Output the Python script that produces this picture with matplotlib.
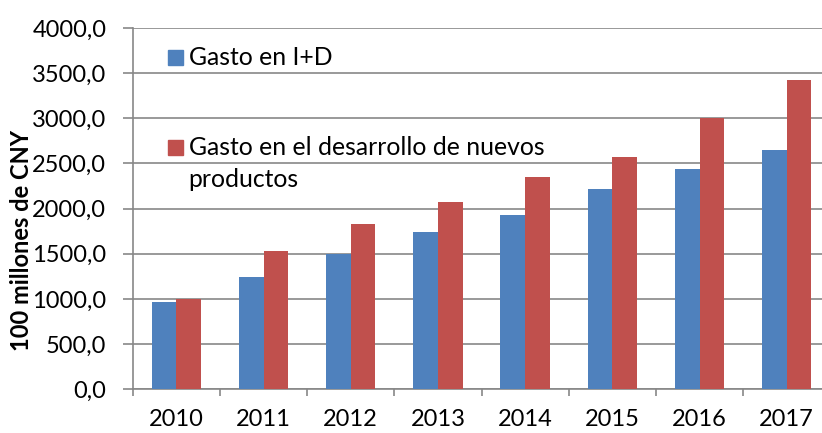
import matplotlib
matplotlib.use("Agg")
import matplotlib.pyplot as plt
import matplotlib.patches as patches
import numpy as np

years = ["2010", "2011", "2012", "2013", "2014", "2015", "2016", "2017"]
gasto_id = [970, 1240, 1497, 1740, 1925, 2223, 2437, 2647]
gasto_nuevos = [1002, 1530, 1829, 2071, 2352, 2573, 3004, 3421]
yticks = [0, 500, 1000, 1500, 2000, 2500, 3000, 3500, 4000]

blue = "#4F81BD"
red = "#C0504D"
grey = "#878787"

plt.rcParams["font.family"] = ["Lato", "DejaVu Sans"]

fig = plt.figure(figsize=(8.22, 4.33), dpi=100)
ax = fig.add_axes([132.7 / 822, 1 - 389.3 / 433, 697.6 / 822, (389.3 - 28) / 433])

x = np.arange(len(years))
w = 0.283
ax.bar(x - w / 2, gasto_id, width=w, color=blue, zorder=3)
ax.bar(x + w / 2, gasto_nuevos, width=w, color=red, zorder=3)

ax.set_xlim(-0.5, len(years) - 0.5)
ax.set_ylim(0, 4000)
ax.set_yticks(yticks)
ax.set_yticklabels([f"{v:.1f}".replace(".", ",") for v in yticks], fontsize=17)
ax.set_xticks(x)
ax.set_xticklabels(years, fontsize=17)
ax.set_xticks(np.arange(len(years) + 1) - 0.5, minor=True)
ax.tick_params(axis="x", which="major", length=0, pad=14)
ax.tick_params(axis="x", which="minor", length=5, color=grey, width=1.2)
ax.tick_params(axis="y", length=7, color=grey, width=1.2, pad=12)

ax.grid(axis="y", color=grey, linewidth=1.2, zorder=0)
for s in ["top", "right"]:
    ax.spines[s].set_visible(False)
for s in ["left", "bottom"]:
    ax.spines[s].set_color(grey)
    ax.spines[s].set_linewidth(1.2)

fig.text(22 / 822, 1 - 240 / 433, "100 millones de CNY", rotation=90,
         ha="center", va="center", fontsize=17, fontweight="bold")

# legend drawn by hand to match the layout
def legend_entry(base, color, lines):
    fig.patches.append(patches.Rectangle((167.5 / 822, 1 - base / 433), 15 / 822, 15 / 433,
                                         transform=fig.transFigure, color=color))
    for i, t in enumerate(lines):
        fig.text(188.5 / 822, 1 - (base + i * 32) / 433, t, ha="left", va="baseline", fontsize=17.8)

legend_entry(65, blue, ["Gasto en I+D"])
legend_entry(155, red, ["Gasto en el desarrollo de nuevos", "productos"])

fig.savefig("out.png", dpi=100)
